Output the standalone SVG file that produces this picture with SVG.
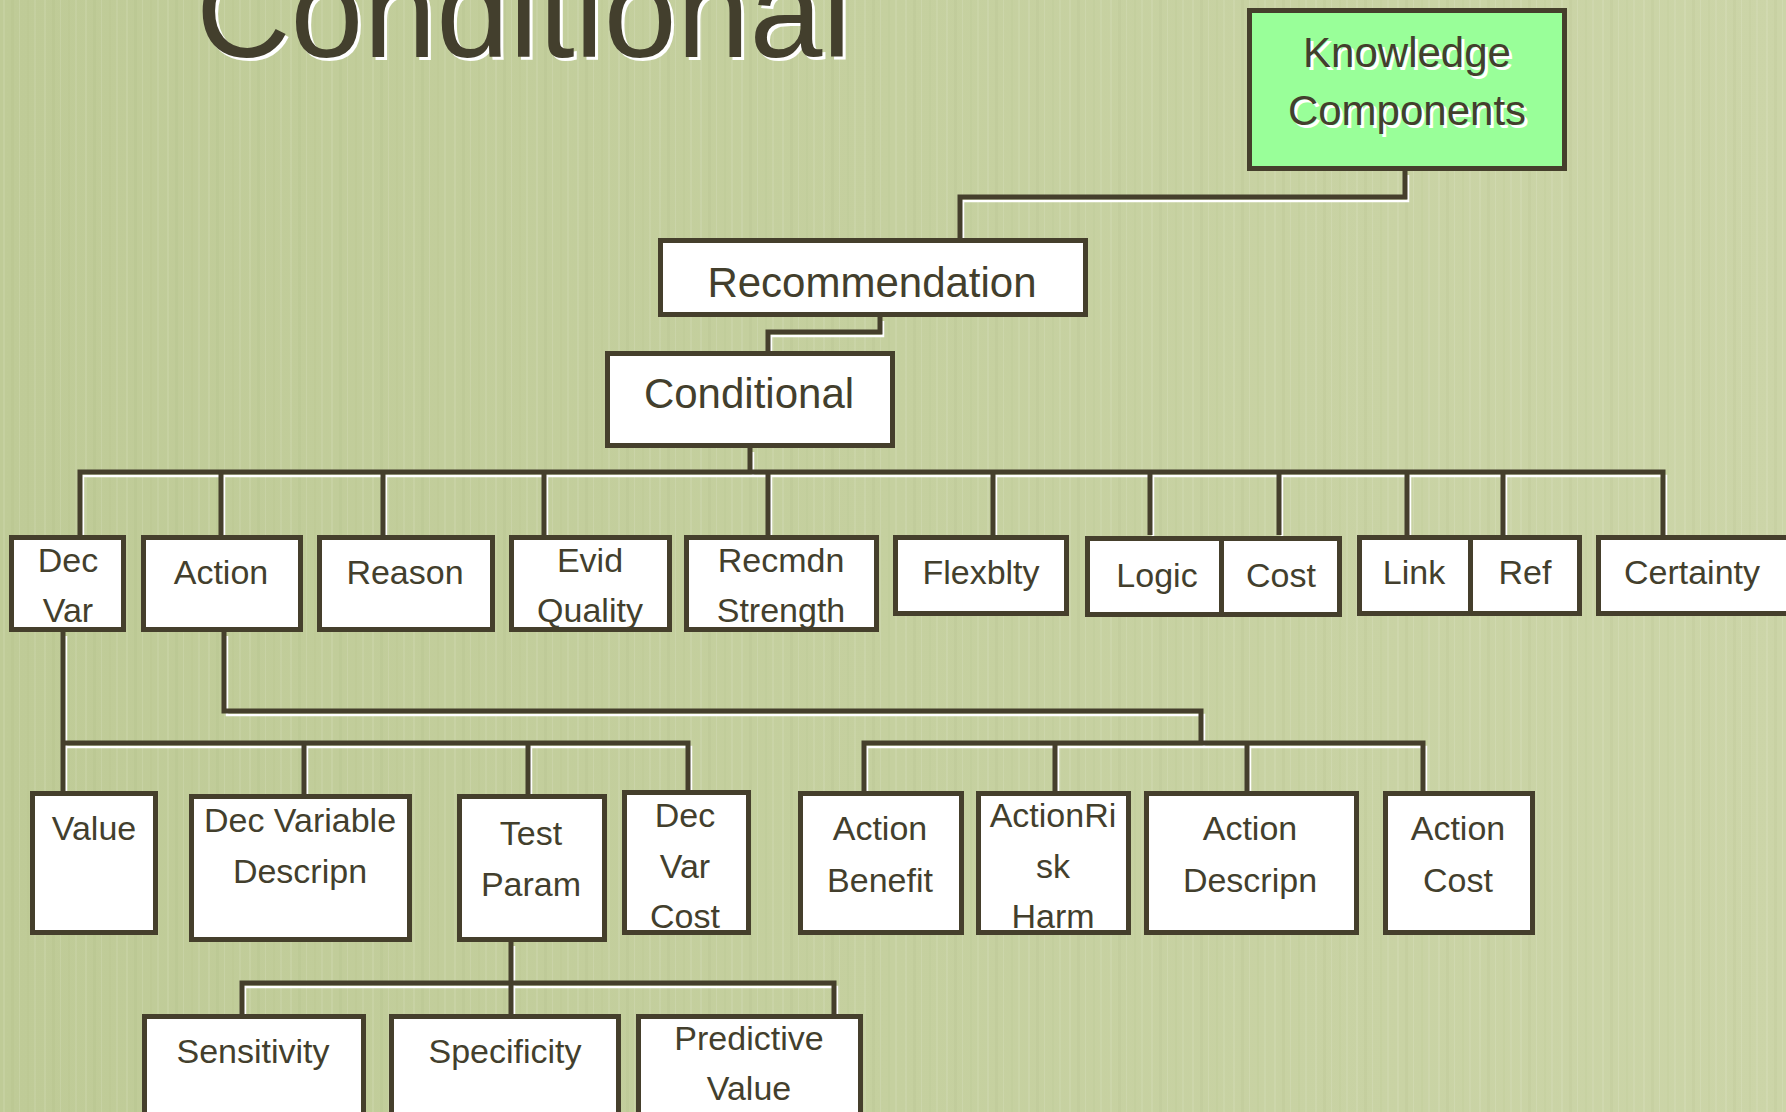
<svg xmlns="http://www.w3.org/2000/svg" xmlns:xlink="http://www.w3.org/1999/xlink" width="1786" height="1112" viewBox="0 0 1786 1112">
<defs>
<linearGradient id="bg" x1="0" y1="0" x2="1" y2="0">
<stop offset="0" stop-color="#bfcb97"/>
<stop offset="0.5" stop-color="#c5d09f"/>
<stop offset="1" stop-color="#ccd5a8"/>
</linearGradient>
<pattern id="tex" width="41" height="1112" patternUnits="userSpaceOnUse">
<rect x="3" y="0" width="2" height="1112" fill="#ffffff" opacity="0.09"/>
<rect x="11" y="0" width="3" height="1112" fill="#8fa060" opacity="0.07"/>
<rect x="19" y="0" width="1" height="1112" fill="#ffffff" opacity="0.11"/>
<rect x="27" y="0" width="2" height="1112" fill="#8fa060" opacity="0.06"/>
<rect x="34" y="0" width="2" height="1112" fill="#ffffff" opacity="0.08"/>
</pattern>
<style>
.box{fill:#ffffff;stroke:#453f2c;stroke-width:5}
.kc{fill:#99ff99;stroke:#453f2c;stroke-width:5}
.t{font-family:"Liberation Sans",Arial,sans-serif;font-size:34px;fill:#433f2d;text-anchor:middle}
.t42{font-size:42px}
.sh{fill:#ffffff}
.ln{fill:none;stroke:#453f2c;stroke-width:5;stroke-linejoin:miter}
.hl{fill:none;stroke:#ffffff;stroke-width:2.5}
</style>
</defs>
<rect width="1786" height="1112" fill="url(#bg)"/>
<rect width="1786" height="1112" fill="url(#tex)"/>

<g id="title">
<text x="199" y="60" font-family="Liberation Sans, Arial, sans-serif" font-size="131" fill="#ffffff">Conditional</text>
<text x="196" y="57" font-family="Liberation Sans, Arial, sans-serif" font-size="131" fill="#433f2d">Conditional</text>
</g>

<g id="connectors">
<g class="hl" transform="translate(3,4)">
<path d="M1405,171 V197 H960 V238"/>
<path d="M880,317 V332 H768 V351"/>
<path d="M750,448 V472"/>
<path d="M80,535 V472 H1663 V535"/>
<path d="M221,472 V535 M383,472 V535 M544,472 V535 M768,472 V535 M993,472 V535 M1150,472 V535 M1279,472 V535 M1407,472 V535 M1503,472 V535"/>
<path d="M63,632 V791"/>
<path d="M63,743 H688 V790 M304,743 V794 M528,743 V794"/>
<path d="M224,632 V711 H1201 V743"/>
<path d="M864,791 V743 H1423 V791 M1055,743 V791 M1247,743 V791"/>
<path d="M511,942 V1014"/>
<path d="M242,1014 V983 H834 V1014"/>
</g>
<g class="ln">
<path d="M1405,171 V197 H960 V238"/>
<path d="M880,317 V332 H768 V351"/>
<path d="M750,448 V472"/>
<path d="M80,535 V472 H1663 V535"/>
<path d="M221,472 V535 M383,472 V535 M544,472 V535 M768,472 V535 M993,472 V535 M1150,472 V535 M1279,472 V535 M1407,472 V535 M1503,472 V535"/>
<path d="M63,632 V791"/>
<path d="M63,743 H688 V790 M304,743 V794 M528,743 V794"/>
<path d="M224,632 V711 H1201 V743"/>
<path d="M864,791 V743 H1423 V791 M1055,743 V791 M1247,743 V791"/>
<path d="M511,942 V1014"/>
<path d="M242,1014 V983 H834 V1014"/>
</g>
</g>

<g id="knowledge-components">
<rect class="kc" x="1249.5" y="10.5" width="315" height="158"/>
<text class="t t42 sh" x="1410" y="70">Knowledge</text>
<text class="t t42" x="1407" y="67">Knowledge</text>
<text class="t t42 sh" x="1410" y="128">Components</text>
<text class="t t42" x="1407" y="125">Components</text>
</g>
<g id="recommendation">
<rect class="box" x="660.5" y="240.5" width="425" height="74"/>
<text class="t t42" x="872" y="297">Recommendation</text>
</g>
<g id="conditional">
<rect class="box" x="607.5" y="353.5" width="285" height="92"/>
<text class="t t42" x="749" y="408">Conditional</text>
</g>

<g id="dec-var">
<rect class="box" x="11.5" y="537.5" width="112" height="92"/>
<text class="t" x="68" y="572">Dec</text>
<text class="t" x="68" y="622">Var</text>
</g>
<g id="action">
<rect class="box" x="143.5" y="537.5" width="157" height="92"/>
<text class="t" x="221" y="584">Action</text>
</g>
<g id="reason">
<rect class="box" x="319.5" y="537.5" width="173" height="92"/>
<text class="t" x="405" y="584">Reason</text>
</g>
<g id="evid-quality">
<rect class="box" x="511.5" y="537.5" width="158" height="92"/>
<text class="t" x="590" y="572">Evid</text>
<text class="t" x="590" y="622">Quality</text>
</g>
<g id="recmdn-strength">
<rect class="box" x="686.5" y="537.5" width="190" height="92"/>
<text class="t" x="781" y="572">Recmdn</text>
<text class="t" x="781" y="622">Strength</text>
</g>
<g id="flexblty">
<rect class="box" x="895.5" y="537.5" width="171" height="76"/>
<text class="t" x="981" y="584">Flexblty</text>
</g>
<g id="logic">
<rect class="box" x="1087.5" y="538.5" width="134" height="76"/>
<text class="t" x="1157" y="587">Logic</text>
</g>
<g id="cost">
<rect class="box" x="1221.5" y="538.5" width="118" height="76"/>
<text class="t" x="1281" y="587">Cost</text>
</g>
<g id="link">
<rect class="box" x="1359.5" y="537.5" width="111" height="76"/>
<text class="t" x="1414" y="584">Link</text>
</g>
<g id="ref">
<rect class="box" x="1470.5" y="537.5" width="109" height="76"/>
<text class="t" x="1525" y="584">Ref</text>
</g>
<g id="certainty">
<rect class="box" x="1598.5" y="537.5" width="200" height="76"/>
<text class="t" x="1692" y="584">Certainty</text>
</g>

<g id="value">
<rect class="box" x="32.5" y="793.5" width="123" height="139"/>
<text class="t" x="94" y="840">Value</text>
</g>
<g id="dec-variable-descripn">
<rect class="box" x="191.5" y="796.5" width="218" height="143"/>
<text class="t" x="300" y="832">Dec Variable</text>
<text class="t" x="300" y="883">Descripn</text>
</g>
<g id="test-param">
<rect class="box" x="459.5" y="796.5" width="145" height="143"/>
<text class="t" x="531" y="845">Test</text>
<text class="t" x="531" y="896">Param</text>
</g>
<g id="dec-var-cost">
<rect class="box" x="624.5" y="792.5" width="124" height="140"/>
<text class="t" x="685" y="827">Dec</text>
<text class="t" x="685" y="878">Var</text>
<text class="t" x="685" y="928">Cost</text>
</g>
<g id="action-benefit">
<rect class="box" x="800.5" y="793.5" width="161" height="139"/>
<text class="t" x="880" y="840">Action</text>
<text class="t" x="880" y="892">Benefit</text>
</g>
<g id="action-risk-harm">
<rect class="box" x="978.5" y="793.5" width="150" height="139"/>
<text class="t" x="1053" y="827">ActionRi</text>
<text class="t" x="1053" y="878">sk</text>
<text class="t" x="1053" y="928">Harm</text>
</g>
<g id="action-descripn">
<rect class="box" x="1146.5" y="793.5" width="210" height="139"/>
<text class="t" x="1250" y="840">Action</text>
<text class="t" x="1250" y="892">Descripn</text>
</g>
<g id="action-cost">
<rect class="box" x="1385.5" y="793.5" width="147" height="139"/>
<text class="t" x="1458" y="840">Action</text>
<text class="t" x="1458" y="892">Cost</text>
</g>

<g id="sensitivity">
<rect class="box" x="144.5" y="1016.5" width="219" height="120"/>
<text class="t" x="253" y="1063">Sensitivity</text>
</g>
<g id="specificity">
<rect class="box" x="391.5" y="1016.5" width="227" height="120"/>
<text class="t" x="505" y="1063">Specificity</text>
</g>
<g id="predictive-value">
<rect class="box" x="638.5" y="1016.5" width="222" height="120"/>
<text class="t" x="749" y="1050">Predictive</text>
<text class="t" x="749" y="1100">Value</text>
</g>
</svg>
